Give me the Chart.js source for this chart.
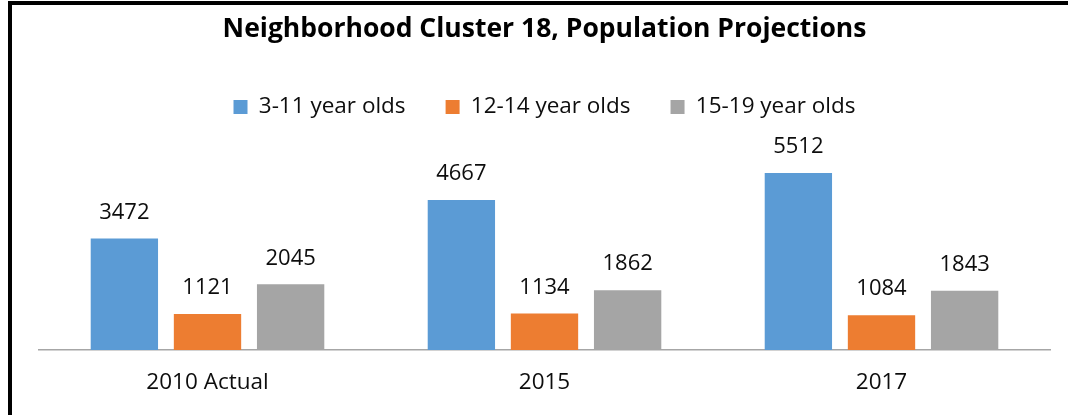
<!DOCTYPE html>
<html>
<head>
<meta charset="utf-8">
<script src="https://cdn.jsdelivr.net/npm/chart.js@4"></script>
<style>
  html, body { margin: 0; padding: 0; background: #fff; }
  #frame {
    position: absolute; left: 8px; top: 1px;
    width: 1056px; height: 410px;
    border-left: 4px solid #000; border-top: 4px solid #000;
  }
  #chart { display: block; }
</style>
</head>
<body>
<div id="frame"><canvas id="chart" width="1056" height="410"></canvas></div>
<script>
const categories = ["2010 Actual", "2015", "2017"];
const seriesNames = ["3-11 year olds", "12-14 year olds", "15-19 year olds"];
const ages3to11 = [3472, 4667, 5512];
const ages12to14 = [1121, 1134, 1084];
const ages15to19 = [2045, 1862, 1843];
const colors = ["#5B9BD5", "#ED7D31", "#A5A5A5"];

const FONT = "Open Sans";

// draw the value above each bar
const valueLabels = {
    id: "valueLabels",
    afterDatasetsDraw(chart) {
        const ctx = chart.ctx;
        ctx.save();
        ctx.font = "22px '" + FONT + "'";
        ctx.fillStyle = "#0d0d0d";
        ctx.textAlign = "center";
        ctx.textBaseline = "middle";
        chart.data.datasets.forEach((ds, i) => {
            chart.getDatasetMeta(i).data.forEach((bar, j) => {
                ctx.fillText(String(ds.data[j]), bar.x, bar.y - 26);
            });
        });
        ctx.restore();
    }
};

const ctx = document.getElementById("chart").getContext("2d");

new Chart(ctx, {
    type: "bar",
    data: {
        labels: categories,
        datasets: [
            { label: seriesNames[0], data: ages3to11, backgroundColor: colors[0] },
            { label: seriesNames[1], data: ages12to14, backgroundColor: colors[1] },
            { label: seriesNames[2], data: ages15to19, backgroundColor: colors[2] }
        ]
    },
    options: {
        responsive: false,
        animation: false,
        layout: { padding: { left: 27, right: 18, bottom: 7 } },
        datasets: { bar: { barPercentage: 0.81, categoryPercentage: 0.74 } },
        plugins: {
            title: {
                display: true,
                text: "Neighborhood Cluster 18, Population Projections",
                color: "#000",
                font: { family: FONT, size: 26.5, weight: "bold" },
                padding: { top: 9, bottom: 10 }
            },
            legend: {
                position: "top",
                labels: {
                    color: "#0d0d0d",
                    font: { family: FONT, size: 22.5 },
                    boxWidth: 14,
                    boxHeight: 14,
                    padding: 40
                }
            },
            tooltip: { enabled: false }
        },
        scales: {
            x: {
                grid: { display: false },
                border: { color: "#A6A6A6", width: 1.5 },
                ticks: { color: "#0d0d0d", font: { family: FONT, size: 22.5 }, padding: 11.5 }
            },
            y: { display: false, min: 0, max: 6900 }
        }
    },
    plugins: [valueLabels]
});
</script>
</body>
</html>
